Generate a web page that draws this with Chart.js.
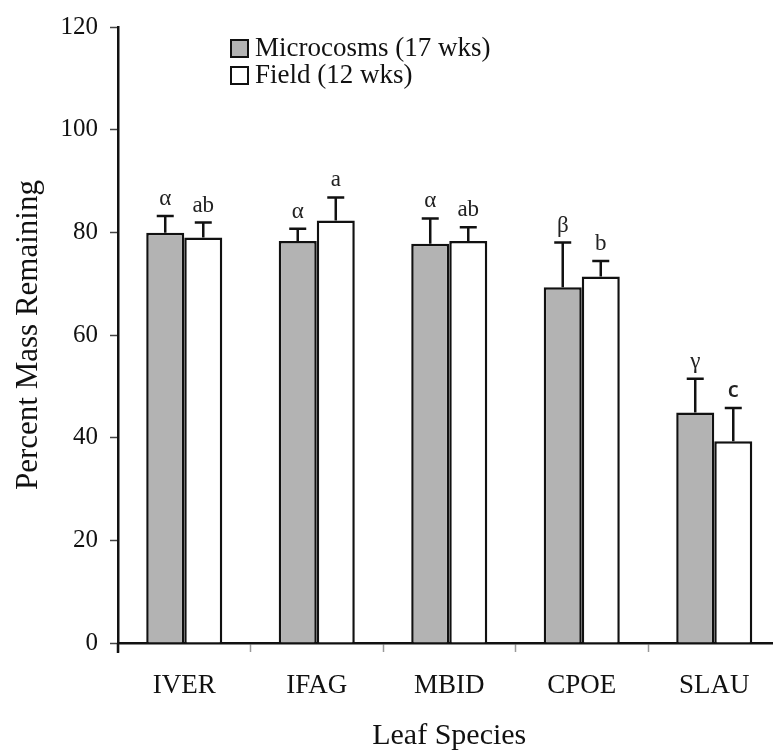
<!DOCTYPE html>
<html>
<head>
<meta charset="utf-8">
<script src="https://cdn.jsdelivr.net/npm/chart.js@4/dist/chart.umd.min.js"></script>
<style>
  html, body { margin: 0; padding: 0; background: #fff; overflow: hidden; }
  #wrap { position: relative; width: 790px; height: 755px; }
</style>
</head>
<body>
<div id="wrap"><canvas id="chart"></canvas></div>
<script>
// data
const species = ['IVER', 'IFAG', 'MBID', 'CPOE', 'SLAU'];
const microcosms = [79.9, 78.3, 77.8, 69.3, 44.9];
const microErr = [3.3, 2.4, 4.9, 8.7, 6.6];
const microLetters = ['α', 'α', 'α', 'β', 'γ'];
const field = [79.0, 82.3, 78.3, 71.4, 39.3];
const fieldErr = [2.9, 4.5, 2.7, 3.0, 6.5];
const fieldLetters = ['ab', 'a', 'ab', 'b', 'c'];
const yTicks = [0, 20, 40, 60, 80, 100, 120];

const serif = "'Liberation Serif', 'Times New Roman', serif";
const ink = '#111';

// error bars (upper half only) + significance letters
const errorBars = {
    id: 'errorBars',
    afterDatasetsDraw(chart) {
        const ctx = chart.ctx;
        const y = chart.scales.y;
        const errs = [microErr, fieldErr];
        const letters = [microLetters, fieldLetters];
        ctx.save();
        chart.data.datasets.forEach((ds, i) => {
            chart.getDatasetMeta(i).data.forEach((bar, j) => {
                const top = y.getPixelForValue(ds.data[j] + errs[i][j]);
                const base = y.getPixelForValue(ds.data[j]);
                ctx.strokeStyle = ink;
                ctx.lineWidth = 2.5;
                ctx.beginPath();
                ctx.moveTo(bar.x, base);
                ctx.lineTo(bar.x, top);
                ctx.moveTo(bar.x - 8.5, top);
                ctx.lineTo(bar.x + 8.5, top);
                ctx.stroke();

                const txt = letters[i][j];
                ctx.fillStyle = '#222';
                ctx.textAlign = 'center';
                ctx.textBaseline = 'alphabetic';
                ctx.font = txt === 'c' ? "600 22px 'Open Sans', sans-serif" : '23px ' + serif;
                ctx.fillText(txt, bar.x, top - 11);
            });
        });
        ctx.restore();
    }
};

// legend in the upper-left of the plot
const boxLegend = {
    id: 'boxLegend',
    afterDraw(chart) {
        const ctx = chart.ctx;
        ctx.save();
        chart.data.datasets.forEach((ds, i) => {
            const top = 40 + 27 * i;
            ctx.fillStyle = ds.backgroundColor;
            ctx.fillRect(231, top, 17, 17);
            ctx.strokeStyle = ink;
            ctx.lineWidth = 2;
            ctx.strokeRect(231, top, 17, 17);
            ctx.fillStyle = ink;
            ctx.font = '27px ' + serif;
            ctx.textAlign = 'left';
            ctx.textBaseline = 'middle';
            ctx.fillText(ds.label, 255, top + 9);
        });
        ctx.restore();
    }
};

// y title and the short axis stub below the x axis
const axisExtras = {
    id: 'axisExtras',
    afterDraw(chart) {
        const ctx = chart.ctx;
        const area = chart.chartArea;
        ctx.save();
        ctx.strokeStyle = ink;
        ctx.lineWidth = 2.5;
        ctx.beginPath();
        ctx.moveTo(area.left, area.bottom);
        ctx.lineTo(area.left, area.bottom + 10);
        ctx.stroke();

        ctx.translate(29, (area.top + area.bottom) / 2);
        ctx.rotate(-Math.PI / 2);
        ctx.fillStyle = ink;
        ctx.font = '31px ' + serif;
        ctx.textAlign = 'center';
        ctx.textBaseline = 'middle';
        ctx.fillText('Percent Mass Remaining', 0, 0);
        ctx.restore();
    }
};

new Chart(document.getElementById('chart'), {
    type: 'bar',
    data: {
        labels: species,
        datasets: [
            {
                label: 'Microcosms (17 wks)',
                data: microcosms,
                backgroundColor: '#b3b3b3',
                borderColor: ink,
                borderWidth: 2.5
            },
            {
                label: 'Field (12 wks)',
                data: field,
                backgroundColor: '#ffffff',
                borderColor: ink,
                borderWidth: 2.5
            }
        ]
    },
    options: {
        responsive: true,
        maintainAspectRatio: false,
        animation: false,
        layout: { padding: { top: 25, right: 9.5, bottom: 0, left: 0 } },
        datasets: { bar: { categoryPercentage: 0.574, barPercentage: 1 } },
        plugins: {
            legend: { display: false },
            tooltip: { enabled: false }
        },
        scales: {
            x: {
                afterFit: (s) => { s.height = 112; },
                grid: {
                    drawOnChartArea: false,
                    tickLength: 9,
                    tickColor: '#999',
                    tickWidth: 1.5
                },
                border: { color: ink, width: 2.5 },
                ticks: {
                    color: ink,
                    padding: 18,
                    font: { family: serif, size: 27 }
                },
                title: {
                    display: true,
                    text: 'Leaf Species',
                    color: ink,
                    font: { family: serif, size: 30 },
                    padding: { top: 0, bottom: 1 }
                }
            },
            y: {
                min: 0,
                max: 120,
                afterFit: (s) => { s.width = 118; },
                afterBuildTicks: (s) => { s.ticks = yTicks.map(v => ({ value: v })); },
                grid: {
                    drawOnChartArea: false,
                    tickLength: 8,
                    tickColor: '#444',
                    tickWidth: 1.5
                },
                border: { color: ink, width: 2.5 },
                ticks: {
                    color: ink,
                    padding: 12,
                    font: { family: serif, size: 25 }
                }
            }
        }
    },
    plugins: [errorBars, boxLegend, axisExtras]
});
</script>
</body>
</html>
